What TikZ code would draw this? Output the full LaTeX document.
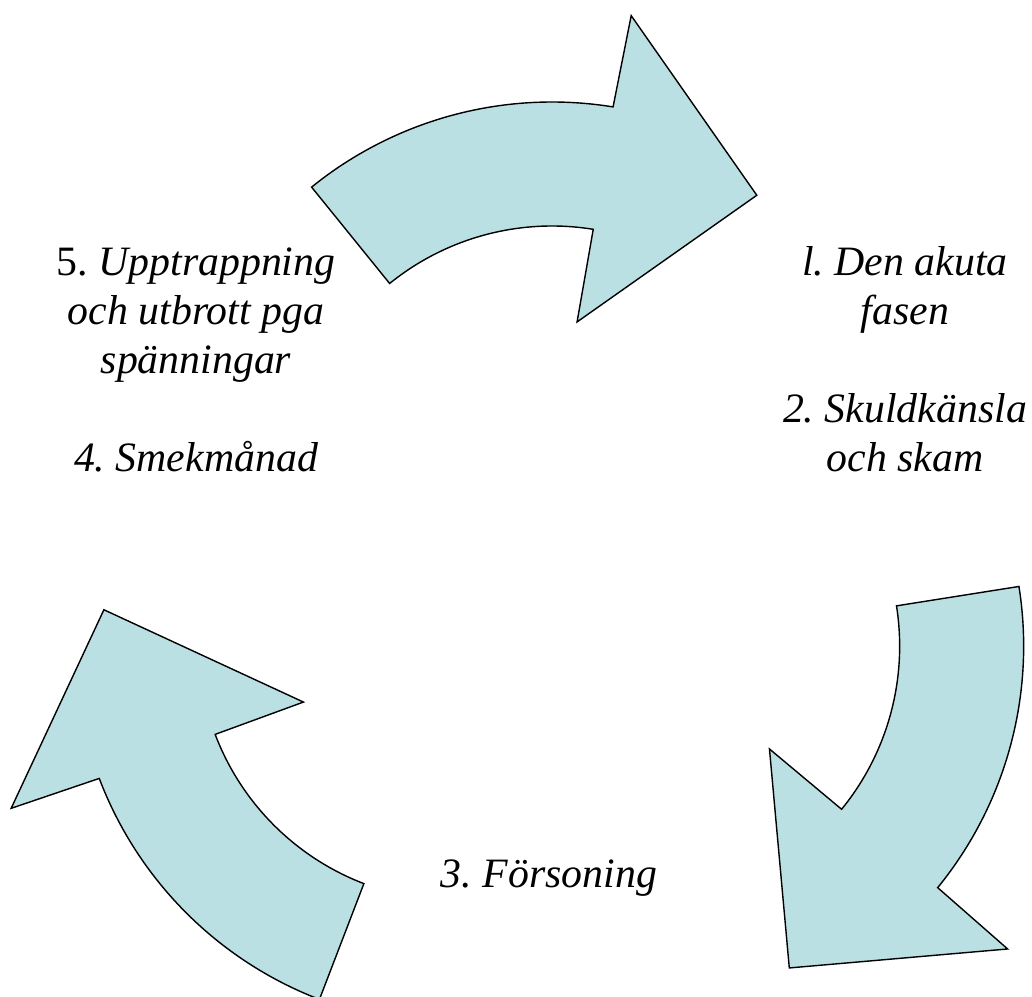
\documentclass[tikz,border=0pt]{standalone}
\usepackage{fontspec}
\setmainfont{Liberation Serif}
\definecolor{arrowfill}{RGB}{187,224,227}
\frenchspacing
\begin{document}
\begin{tikzpicture}[x=0.02cm,y=0.02cm,
  arrowbody/.style={fill=arrowfill,draw=black,line width=0.8pt,line join=miter},
  phase/.style={anchor=base,inner sep=0pt,font=\fontsize{23.8}{28}\selectfont\itshape},
  cyclearrow/.pic={
    \path[arrowbody] (129:382) -- (129:258)
      arc[start angle=129, end angle=80.8, radius=258]
      -- (81.2:164) -- (54.65:354) -- (80.4:475) -- (80.8:382)
      arc[start angle=80.8, end angle=129, radius=382] -- cycle;
  }]
\useasboundingbox (0,0) rectangle (1032,997);
% three curved arrows, 120 degrees apart around (550,406)
\pic at (552,513) {cyclearrow};
\pic[rotate=-120] at (641.66,350.77) {cyclearrow};
\pic[rotate=120] at (456.34,354.23) {cyclearrow};
% left text block
\node[phase] (l1) at (196,721) {{\upshape 5. }Upptrappning};
\node[phase] (l2) at (196,672) {och utbrott pga};
\node[phase] (l3) at (196,623) {spänningar};
\node[phase] (l4) at (196,525) {4. Smekmånad};
% right text block
\node[phase] (r1) at (905,721) {l. Den akuta};
\node[phase] (r2) at (905,672) {fasen};
\node[phase] (r3) at (905,574) {2. Skuldkänsla};
\node[phase] (r4) at (905,525) {och skam};
% bottom text
\node[phase] (b1) at (549,109) {3. Försoning};
\end{tikzpicture}
\end{document}
